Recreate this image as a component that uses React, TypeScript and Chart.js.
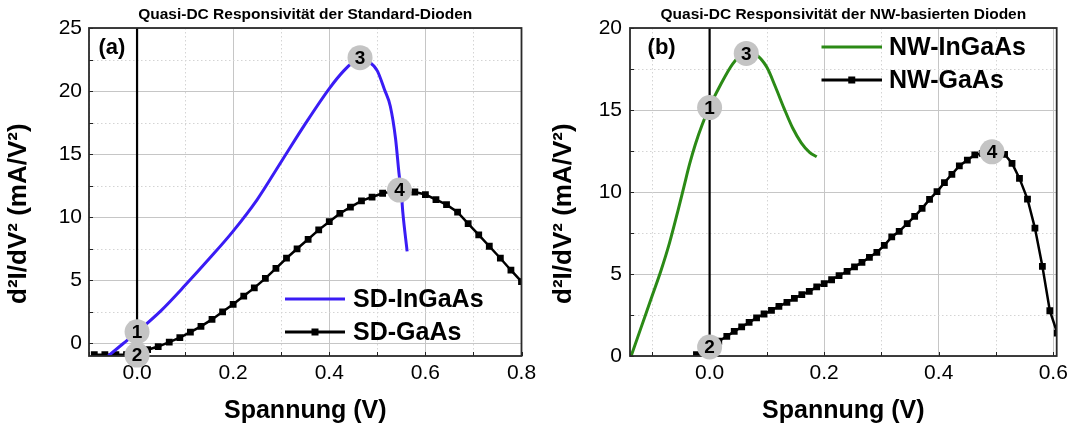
import React, { useEffect, useRef } from 'react';
import { Chart, registerables } from 'chart.js';

Chart.register(...registerables);

const FONT = "'Liberation Sans', Arial, Helvetica, sans-serif";

// ---------- shared texts ----------
const xTitle = 'Spannung (V)';
const yTitle = 'd\u00B2I/dV\u00B2 (mA/V\u00B2)      ';
const markLabels = ['1', '2', '3', '4'];

// ---------- Panel (a) ----------
const titleA = 'Quasi-DC Responsivität der Standard-Dioden';
const legendA = ['SD-InGaAs', 'SD-GaAs'];
const sdInGaAsV = [-0.06, -0.03, 0.0, 0.05, 0.1, 0.15, 0.2, 0.25, 0.3, 0.35, 0.4, 0.43, 0.45, 0.465, 0.48, 0.5, 0.515, 0.527, 0.538, 0.545, 0.55, 0.553, 0.562];
const sdInGaAsR = [-1.0, -0.05, 0.9, 2.6, 4.6, 6.7, 8.9, 11.4, 14.4, 17.4, 20.2, 21.6, 22.3, 22.6, 22.4, 21.6, 20.1, 18.8, 16.2, 13.5, 11.9, 10.4, 7.3];
const sdGaAsV = [-0.089, -0.067, -0.044, -0.022, 0.0, 0.022, 0.044, 0.067, 0.089, 0.111, 0.133, 0.156, 0.178, 0.2, 0.222, 0.244, 0.267, 0.289, 0.311, 0.333, 0.356, 0.378, 0.4, 0.422, 0.444, 0.467, 0.489, 0.511, 0.533, 0.556, 0.578, 0.6, 0.622, 0.644, 0.667, 0.689, 0.711, 0.733, 0.756, 0.778, 0.8];
const sdGaAsR = [-0.9, -0.9, -0.9, -0.9, -0.8, -0.5, -0.25, 0.1, 0.45, 0.9, 1.35, 1.9, 2.5, 3.1, 3.75, 4.4, 5.15, 5.95, 6.75, 7.5, 8.25, 9.0, 9.65, 10.3, 10.8, 11.3, 11.6, 11.9, 12.05, 12.1, 12.0, 11.8, 11.4, 11.0, 10.4, 9.5, 8.6, 7.7, 6.75, 5.8, 4.9];
const marksAV = [0.0, 0.0, 0.464, 0.546];
const marksAR = [0.92, -0.93, 22.65, 12.15];

// ---------- Panel (b) ----------
const titleB = 'Quasi-DC Responsivität der NW-basierten Dioden';
const legendB = ['NW-InGaAs', 'NW-GaAs'];
const nwInGaAsV = [-0.137, -0.12, -0.1, -0.085, -0.07, -0.055, -0.045, -0.035, -0.025, -0.013, 0.0, 0.02, 0.04, 0.055, 0.068, 0.082, 0.1, 0.115, 0.13, 0.145, 0.16, 0.175, 0.187];
const nwInGaAsR = [0.0, 1.7, 3.7, 5.2, 6.9, 8.9, 10.3, 11.7, 12.9, 14.1, 15.2, 16.6, 17.8, 18.35, 18.5, 18.35, 17.6, 16.4, 15.1, 13.9, 13.0, 12.4, 12.15];
const nwGaAsV = [-0.023, -0.01, 0.003, 0.016, 0.03, 0.043, 0.056, 0.069, 0.082, 0.095, 0.108, 0.121, 0.135, 0.148, 0.161, 0.174, 0.187, 0.2, 0.213, 0.226, 0.24, 0.253, 0.266, 0.279, 0.292, 0.305, 0.318, 0.331, 0.345, 0.358, 0.371, 0.384, 0.397, 0.41, 0.423, 0.436, 0.45, 0.463, 0.476, 0.489, 0.502, 0.515, 0.528, 0.541, 0.555, 0.568, 0.581, 0.594, 0.607];
const nwGaAsR = [0.08, 0.3, 0.6, 0.9, 1.2, 1.5, 1.77, 2.05, 2.32, 2.56, 2.78, 3.03, 3.27, 3.52, 3.74, 3.94, 4.21, 4.41, 4.65, 4.9, 5.16, 5.43, 5.71, 6.02, 6.32, 6.75, 7.26, 7.6, 8.07, 8.52, 9.0, 9.55, 10.02, 10.57, 11.08, 11.59, 11.95, 12.26, 12.36, 12.45, 12.4, 12.3, 11.75, 10.83, 9.57, 7.8, 5.47, 2.76, 1.4];
const marksBV = [0.0, 0.0, 0.064, 0.493];
const marksBR = [15.15, 0.55, 18.45, 12.45];

const zip = (xs: number[], ys: number[]) => xs.map((x, i) => ({ x, y: ys[i] }));

const BLUE = '#3a1cf5';
const GREEN = '#2b8a16';

const smoothLine = (label: string, color: string, xs: number[], ys: number[]) => ({
  label,
  data: zip(xs, ys),
  borderColor: color,
  backgroundColor: color,
  borderWidth: 3,
  pointRadius: 0,
  cubicInterpolationMode: 'monotone',
  fill: false,
});

const markerLine = (label: string, xs: number[], ys: number[]) => ({
  label,
  data: zip(xs, ys),
  borderColor: '#000',
  backgroundColor: '#000',
  borderWidth: 2.5,
  pointStyle: 'rect',
  pointRadius: 4.8,
  pointBorderWidth: 0,
  pointBackgroundColor: '#000',
  tension: 0,
  fill: false,
});

interface Spec {
  left: number;
  width: number;
  title: string;
  tag: string;
  tagX: number;
  tagY: number;
  xMin: number;
  xMax: number;
  yMin: number;
  yMax: number;
  yAxisWidth: number;
  padRight: number;
  yTitlePad: number;
  yTickPad: number;
  datasets: any[];
  marks: { x: number; y: number; label: string }[];
  legend: { x1: number; x2: number; y: number; dy: number; tx: number; items: { label: string; color: string; marker: boolean }[] };
}

const isMajorX = (v: number) => Math.abs(Math.round(v * 10)) % 2 === 0;
const isMajorY = (v: number) => Math.abs(Math.round(v / 2.5)) % 2 === 0;

function makeDecor(spec: Spec) {
  return {
    id: 'decor',
    beforeDatasetsDraw(chart: any) {
      const { ctx, chartArea: a } = chart;
      const xs = chart.scales.x;
      const ys = chart.scales.y;
      ctx.save();
      // minor dotted grid
      ctx.strokeStyle = '#d4d4d4';
      ctx.lineWidth = 1;
      ctx.setLineDash([1.5, 2.5]);
      xs.ticks.forEach((t: any) => {
        if (isMajorX(t.value)) return;
        const p = Math.round(xs.getPixelForValue(t.value)) + 0.5;
        ctx.beginPath();
        ctx.moveTo(p, a.top);
        ctx.lineTo(p, a.bottom);
        ctx.stroke();
      });
      ys.ticks.forEach((t: any) => {
        if (isMajorY(t.value)) return;
        const p = Math.round(ys.getPixelForValue(t.value)) + 0.5;
        ctx.beginPath();
        ctx.moveTo(a.left, p);
        ctx.lineTo(a.right, p);
        ctx.stroke();
      });
      ctx.setLineDash([]);
      // zero voltage line
      const px = xs.getPixelForValue(0);
      ctx.strokeStyle = '#000';
      ctx.lineWidth = 2.2;
      ctx.beginPath();
      ctx.moveTo(px, a.top);
      ctx.lineTo(px, a.bottom);
      ctx.stroke();
      ctx.restore();
    },
    afterDatasetsDraw(chart: any) {
      const { ctx, chartArea: a } = chart;
      const xs = chart.scales.x;
      const ys = chart.scales.y;
      ctx.save();
      // inward tick marks
      ctx.strokeStyle = '#222';
      ctx.lineWidth = 1;
      xs.ticks.forEach((t: any) => {
        const p = Math.round(xs.getPixelForValue(t.value)) + 0.5;
        ctx.beginPath();
        ctx.moveTo(p, a.bottom);
        ctx.lineTo(p, a.bottom - 4);
        ctx.stroke();
      });
      ys.ticks.forEach((t: any) => {
        const p = Math.round(ys.getPixelForValue(t.value)) + 0.5;
        ctx.beginPath();
        ctx.moveTo(a.left, p);
        ctx.lineTo(a.left + 4, p);
        ctx.stroke();
      });
      // frame
      ctx.strokeStyle = '#2a2a2a';
      ctx.lineWidth = 1.8;
      ctx.strokeRect(a.left, a.top, a.right - a.left, a.bottom - a.top);
      // panel tag
      ctx.fillStyle = '#000';
      ctx.font = `bold 22px ${FONT}`;
      ctx.textAlign = 'left';
      ctx.textBaseline = 'middle';
      ctx.fillText(spec.tag, spec.tagX, spec.tagY);
      // legend
      const L = spec.legend;
      L.items.forEach((it, i) => {
        const y = L.y + i * L.dy;
        ctx.strokeStyle = it.color;
        ctx.lineWidth = 3;
        ctx.beginPath();
        ctx.moveTo(L.x1, y);
        ctx.lineTo(L.x2, y);
        ctx.stroke();
        if (it.marker) {
          ctx.fillStyle = it.color;
          const cx = (L.x1 + L.x2) / 2;
          ctx.fillRect(cx - 3.5, y - 3.5, 7, 7);
        }
        ctx.fillStyle = '#000';
        ctx.font = `bold 25px ${FONT}`;
        ctx.textAlign = 'left';
        ctx.textBaseline = 'middle';
        ctx.fillText(it.label, L.tx, y + 1);
      });
      // numbered marks
      spec.marks.forEach((m) => {
        const cx = xs.getPixelForValue(m.x);
        const cy = ys.getPixelForValue(m.y);
        ctx.beginPath();
        ctx.arc(cx, cy, 12.5, 0, Math.PI * 2);
        ctx.fillStyle = '#c4c4c4';
        ctx.fill();
        ctx.fillStyle = '#000';
        ctx.font = `bold 19px ${FONT}`;
        ctx.textAlign = 'center';
        ctx.textBaseline = 'middle';
        ctx.fillText(m.label, cx, cy + 1);
      });
      ctx.restore();
    },
  };
}

function buildConfig(spec: Spec): any {
  return {
    type: 'line',
    data: { datasets: spec.datasets },
    options: {
      responsive: false,
      animation: false,
      devicePixelRatio: 1,
      layout: { padding: { left: 0, right: spec.padRight, top: 0, bottom: 0 } },
      plugins: {
        legend: { display: false },
        tooltip: { enabled: false },
        title: {
          display: true,
          text: spec.title,
          fullSize: false,
          color: '#000',
          font: { family: FONT, size: 15.5, weight: 'bold', lineHeight: 1.2 },
          padding: { top: 5.7, bottom: 3.7 },
        },
      },
      scales: {
        x: {
          type: 'linear',
          min: spec.xMin,
          max: spec.xMax,
          afterFit: (s: any) => {
            s.height = 70;
          },
          ticks: {
            stepSize: 0.1,
            includeBounds: false,
            autoSkip: false,
            maxRotation: 0,
            minRotation: 0,
            padding: 5,
            color: '#000',
            font: { family: FONT, size: 21 },
            callback: (v: number) => (isMajorX(v) ? (Math.round(v * 10) / 10).toFixed(1) : ''),
          },
          grid: {
            drawTicks: false,
            lineWidth: 1,
            color: (c: any) => (c.tick && isMajorX(c.tick.value) ? '#c6c6c6' : 'rgba(0,0,0,0)'),
          },
          border: { display: false },
          title: {
            display: true,
            text: xTitle,
            color: '#000',
            font: { family: FONT, size: 25, weight: 'bold', lineHeight: 1.2 },
            padding: { top: 0, bottom: 0 },
          },
        },
        y: {
          type: 'linear',
          min: spec.yMin,
          max: spec.yMax,
          afterFit: (s: any) => {
            s.width = spec.yAxisWidth;
          },
          ticks: {
            stepSize: 2.5,
            includeBounds: false,
            autoSkip: false,
            padding: spec.yTickPad,
            color: '#000',
            font: { family: FONT, size: 21 },
            callback: (v: number) => (isMajorY(v) ? String(Math.round(v)) : ''),
          },
          grid: {
            drawTicks: false,
            lineWidth: 1,
            color: (c: any) => (c.tick && isMajorY(c.tick.value) ? '#c6c6c6' : 'rgba(0,0,0,0)'),
          },
          border: { display: false },
          title: {
            display: true,
            text: yTitle,
            color: '#000',
            font: { family: FONT, size: 26, weight: 'bold', lineHeight: 1.2 },
            padding: { top: spec.yTitlePad, bottom: 0 },
          },
        },
      },
    },
    plugins: [makeDecor(spec)],
  };
}

const specA: Spec = {
  left: 0,
  width: 545,
  title: titleA,
  tag: '(a)',
  tagX: 98.5,
  tagY: 47.5,
  xMin: -0.1,
  xMax: 0.8,
  yMin: -1,
  yMax: 25,
  yAxisWidth: 89,
  padRight: 23.5,
  yTitlePad: 3.5,
  yTickPad: 7,
  datasets: [smoothLine(legendA[0], BLUE, sdInGaAsV, sdInGaAsR), markerLine(legendA[1], sdGaAsV, sdGaAsR)],
  marks: marksAV.map((x, i) => ({ x, y: marksAR[i], label: markLabels[i] })),
  legend: {
    x1: 285,
    x2: 345,
    y: 299,
    dy: 33,
    tx: 353,
    items: [
      { label: legendA[0], color: BLUE, marker: false },
      { label: legendA[1], color: '#000', marker: true },
    ],
  },
};

const specB: Spec = {
  left: 545,
  width: 529,
  title: titleB,
  tag: '(b)',
  tagX: 102.6,
  tagY: 47.5,
  xMin: -0.139,
  xMax: 0.606,
  yMin: 0,
  yMax: 20,
  yAxisWidth: 85,
  padRight: 17.3,
  yTitlePad: 3,
  yTickPad: 8,
  datasets: [smoothLine(legendB[0], GREEN, nwInGaAsV, nwInGaAsR), markerLine(legendB[1], nwGaAsV, nwGaAsR)],
  marks: marksBV.map((x, i) => ({ x, y: marksBR[i], label: markLabels[i] })),
  legend: {
    x1: 276.5,
    x2: 337,
    y: 47,
    dy: 33,
    tx: 344,
    items: [
      { label: legendB[0], color: GREEN, marker: false },
      { label: legendB[1], color: '#000', marker: true },
    ],
  },
};

function Panel({ spec }: { spec: Spec }) {
  const ref = useRef<HTMLCanvasElement>(null);
  useEffect(() => {
    if (!ref.current) return;
    const chart = new Chart(ref.current, buildConfig(spec));
    return () => chart.destroy();
  }, [spec]);
  return (
    <div style={{ position: 'absolute', left: spec.left, top: 0, width: spec.width, height: 426 }}>
      <canvas ref={ref} width={spec.width} height={426} style={{ width: spec.width, height: 426, display: 'block' }} />
    </div>
  );
}

export default function App() {
  return (
    <div style={{ position: 'fixed', left: 0, top: 0, width: 1074, height: 426, background: '#fff', overflow: 'hidden' }}>
      <Panel spec={specA} />
      <Panel spec={specB} />
    </div>
  );
}
